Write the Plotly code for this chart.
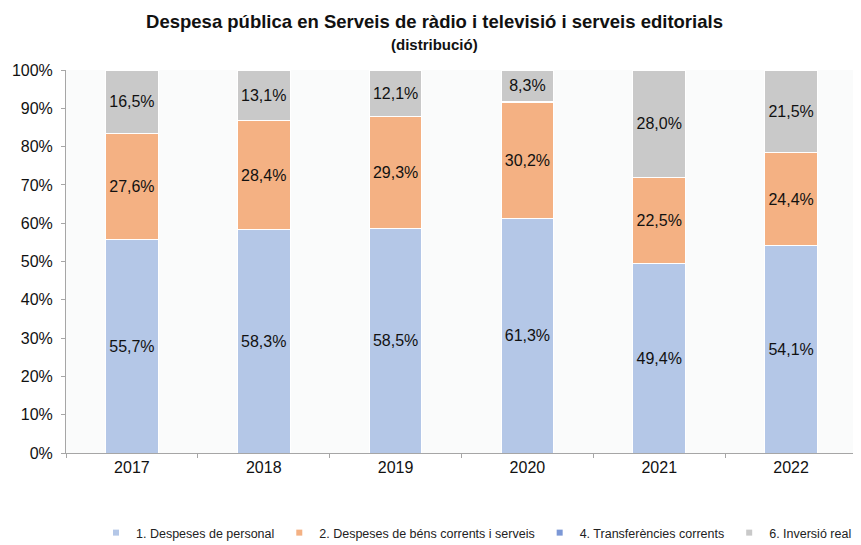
import plotly.graph_objects as go

years = ["2017", "2018", "2019", "2020", "2021", "2022"]
personal = [55.7, 58.3, 58.5, 61.3, 49.4, 54.1]
bens = [27.6, 28.4, 29.3, 30.2, 22.5, 24.4]
transf = [0.2, 0.2, 0.1, 0.2, 0.1, 0.0]
inversio = [16.5, 13.1, 12.1, 8.3, 28.0, 21.5]

series = [
    ("1. Despeses de personal", personal, "#B4C7E7", True),
    ("2. Despeses de béns corrents i serveis", bens, "#F4B183", True),
    ("4. Transferències corrents", transf, "#7C98D6", False),
    ("6. Inversió real", inversio, "#C9C9C9", True),
]

def fmt(v):
    return f"{v:.1f}%".replace(".", ",")

FONT = "Liberation Sans, Arial"

# The page body adds an 8px margin, so the figure is laid out 8px smaller.
W, H = 853, 537
L, R, T, B = 58, 4, 62, 92
PW = W - L - R
PH = H - T - B

fig = go.Figure()
for name, vals, col, lab in series:
    fig.add_trace(go.Bar(
        x=years, y=vals, name=name, showlegend=False,
        marker=dict(color=col, line=dict(color="white", width=1)),
        text=[fmt(v) for v in vals] if lab else None,
        textposition="inside" if lab else "none",
        insidetextanchor="middle",
        textfont=dict(family=FONT, size=16, color="#111111"),
        textangle=0,
        width=0.4,
        hoverinfo="skip",
    ))
# legend entries with small square symbols
for name, vals, col, lab in series:
    fig.add_trace(go.Scatter(
        x=[years[0]], y=[None], name=name, mode="markers",
        marker=dict(symbol="square", size=6, color=col),
        showlegend=True, hoverinfo="skip",
    ))

fig.update_layout(
    barmode="stack",
    width=W, height=H,
    margin=dict(l=L, r=R, t=T, b=B, autoexpand=False),
    paper_bgcolor="white",
    plot_bgcolor="#FAFBFB",
    font=dict(family=FONT, size=14, color="#111111"),
    title=dict(
        text="<b>Despesa pública en Serveis de ràdio i televisió i serveis editorials</b>",
        x=0.5, xanchor="center", xref="container", y=1 - 14 / H, yanchor="middle", yref="container",
        font=dict(family=FONT, size=18.5, color="#111111"),
    ),
    annotations=[dict(
        text="<b>(distribució)</b>", x=(W / 2 - L) / PW, xref="paper", xanchor="center",
        y=(H - B - 36) / PH, yref="paper", yanchor="middle", showarrow=False,
        font=dict(family=FONT, size=15, color="#111111"),
    )],
    legend=dict(
        orientation="h", x=1.0, xanchor="right", y=-(510 - (H - B)) / PH, yanchor="top",
        font=dict(family=FONT, size=12.5, color="#222222"),
        itemwidth=30, tracegroupgap=0, traceorder="normal",
    ),
    uniformtext=dict(minsize=8, mode="show"),
    showlegend=True,
)
fig.update_xaxes(
    type="category", range=[-0.5, 5.5],
    showline=True, linecolor="#A6A6A6", linewidth=1,
    ticks="outside", tickson="boundaries", ticklen=4, tickcolor="#A6A6A6",
    showgrid=False, tickfont=dict(size=16),
)
fig.update_yaxes(
    range=[0, 100], dtick=10, ticksuffix="%",
    showline=True, linecolor="#A6A6A6", linewidth=1,
    ticks="outside", ticklen=4, tickcolor="#A6A6A6", ticklabelstandoff=5,
    showgrid=False, zeroline=False, tickfont=dict(size=16),
)

fig.write_html("out.html")
